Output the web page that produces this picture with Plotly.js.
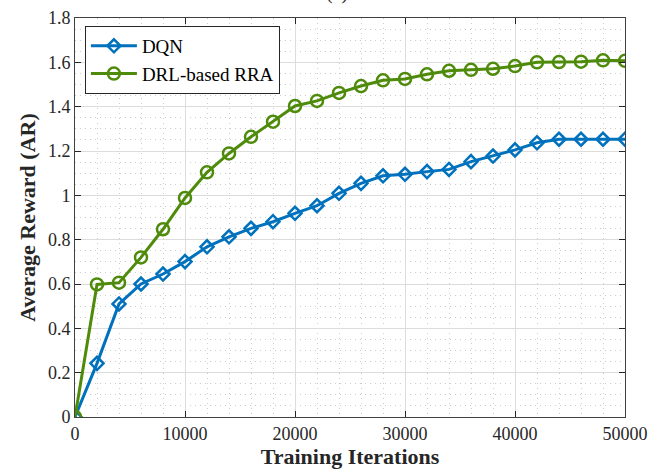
<!DOCTYPE html>
<html>
<head>
<meta charset="utf-8">
<script src="https://cdn.plot.ly/plotly-3.0.1.min.js"></script>
<style>html,body{margin:0;padding:0;background:#fff;}#chart{width:662px;height:473px;}</style>
</head>
<body>
<div id="chart"></div>
<script>
const iterations = [0,2000,4000,6000,8000,10000,12000,14000,16000,18000,20000,22000,24000,26000,28000,30000,32000,34000,36000,38000,40000,42000,44000,46000,48000,50000];
const dqn = [0,0.242,0.510,0.600,0.645,0.701,0.768,0.813,0.851,0.881,0.919,0.953,1.009,1.054,1.088,1.095,1.107,1.117,1.152,1.177,1.205,1.237,1.253,1.253,1.253,1.253];
const drl = [0,0.598,0.606,0.720,0.847,0.988,1.104,1.189,1.264,1.332,1.403,1.426,1.462,1.493,1.519,1.525,1.546,1.562,1.566,1.571,1.583,1.600,1.601,1.603,1.609,1.607];
const xTicks = [0,10000,20000,30000,40000,50000];
const yTicks = [0,0.2,0.4,0.6,0.8,1,1.2,1.4,1.6,1.8];

const serif = 'Liberation Serif';
const traces = [
  {x: iterations, y: dqn, name: 'DQN', type: 'scatter', mode: 'lines+markers',
   line: {color: '#0072BD', width: 3},
   marker: {symbol: 'diamond-open', size: 10, color: '#0072BD', line: {width: 2.5, color: '#0072BD'}}},
  {x: iterations, y: drl, name: 'DRL-based RRA', type: 'scatter', mode: 'lines+markers',
   line: {color: '#4E8B0A', width: 3},
   marker: {symbol: 'circle-open', size: 12, color: '#4E8B0A', line: {width: 2.5, color: '#4E8B0A'}}}
];
function axisCommon() {
  return {
    showline: true, linecolor: '#404040', linewidth: 1, mirror: 'ticks',
    ticks: 'inside', ticklen: 6, tickcolor: '#262626', tickwidth: 1,
    showgrid: true, gridcolor: '#dcdcdc', gridwidth: 1, zeroline: false,
    tickfont: {family: serif, size: 18, color: '#262626'}
  };
}
const layout = {
  width: 662, height: 473,
  font: {family: serif, size: 18, color: '#262626'},
  margin: {l: 75, r: 37, t: 18, b: 56},
  paper_bgcolor: '#ffffff', plot_bgcolor: '#ffffff',
  showlegend: true,
  legend: {x: 0.018, y: 0.98, xanchor: 'left', yanchor: 'top', itemwidth: 46,
    bgcolor: '#ffffff', bordercolor: '#262626', borderwidth: 1, tracegroupgap: 0,
    font: {family: serif, size: 19, color: '#000000'}},
  xaxis: Object.assign(axisCommon(), {
    range: [0, 50000], tickvals: xTicks, tickformat: 'd',
    minor: {dtick: 2000, showgrid: true, gridcolor: '#cccccc', griddash: '1px,4px', gridwidth: 1, ticks: ''},
    title: {text: '<b>Training Iterations</b>', font: {family: serif, size: 22, color: '#262626'}, standoff: 4}
  }),
  yaxis: Object.assign(axisCommon(), {
    range: [0, 1.8], tickvals: yTicks,
    minor: {dtick: 0.05, showgrid: true, gridcolor: '#cccccc', griddash: '1px,4px', gridwidth: 1, ticks: ''},
    title: {text: '<b>Average Reward (AR)</b>', font: {family: serif, size: 22, color: '#262626'}, standoff: 6}
  }),
  annotations: [{text: '(a)', xref: 'paper', yref: 'paper', x: 0.477, y: 1.03, xanchor: 'center', yanchor: 'bottom',
    showarrow: false, font: {family: serif, size: 20, color: '#262626'}}]
};
Plotly.newPlot('chart', traces, layout, {displayModeBar: false, staticPlot: true});
</script>
</body>
</html>
